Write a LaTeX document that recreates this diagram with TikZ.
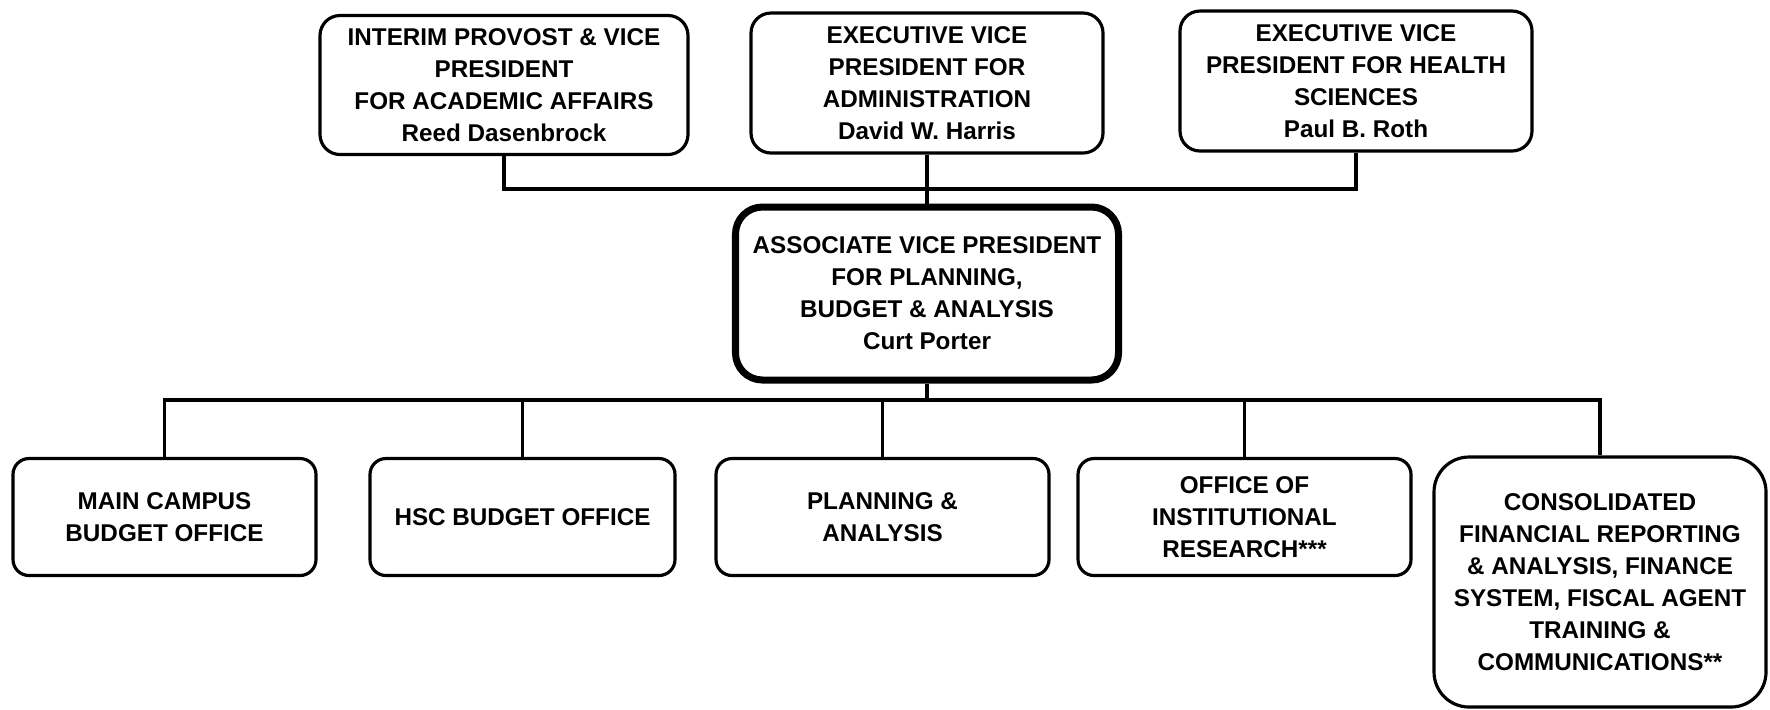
\documentclass[tikz,border=0pt]{standalone}
\usepackage{fontspec}
\setmainfont{Liberation Sans}
\usetikzlibrary{positioning}

\begin{document}
\begin{tikzpicture}[
    every node/.style={font=\fontsize{6.9}{9.1}\selectfont\bfseries, align=center},
    orgbox/.style={draw, line width=0.9pt, rounded corners=0.2cm, inner sep=2pt},
    headbox/.style={orgbox, line width=2pt, rounded corners=0.27cm},
    unitbox/.style={orgbox, rounded corners=0.16cm, minimum height=1.17cm},
    link/.style={line width=0.9pt}
  ]
  \useasboundingbox (0,0) rectangle (17.7,-7.09);

  % Top row
  \node[orgbox, minimum width=3.68cm, minimum height=1.39cm] (prov) at (5.04,-0.85)
    {INTERIM PROVOST \& VICE\\PRESIDENT\\FOR ACADEMIC AFFAIRS\\Reed Dasenbrock};
  \node[orgbox, minimum width=3.52cm, minimum height=1.40cm] (admin) at (9.27,-0.83)
    {EXECUTIVE VICE\\PRESIDENT FOR\\ADMINISTRATION\\David W. Harris};
  \node[orgbox, minimum width=3.52cm, minimum height=1.40cm] (hs) at (13.56,-0.81)
    {EXECUTIVE VICE\\PRESIDENT FOR HEALTH\\SCIENCES\\Paul B. Roth};

  % Head
  \node[headbox, minimum width=3.83cm, minimum height=1.73cm] (avp) at (9.27,-2.935)
    {ASSOCIATE VICE PRESIDENT\\FOR PLANNING,\\BUDGET \& ANALYSIS\\Curt Porter};

  % Units
  \foreach \name/\x/\w/\txt in {
    mcb/1.645/3.03/{MAIN CAMPUS\\BUDGET OFFICE},
    hsc/5.225/3.05/{HSC BUDGET OFFICE},
    pla/8.825/3.33/{PLANNING \&\\ANALYSIS},
    oir/12.445/3.33/{OFFICE OF\\INSTITUTIONAL\\RESEARCH***}%
  }{
    \node[unitbox, minimum width=\w cm] (\name) at (\x,-5.17) {\txt};
  }
  \node[orgbox, rounded corners=0.35cm, minimum width=3.32cm, minimum height=2.50cm] (cfr) at (16.0,-5.82)
    {CONSOLIDATED\\FINANCIAL REPORTING\\\& ANALYSIS, FINANCE\\SYSTEM, FISCAL AGENT\\TRAINING \&\\COMMUNICATIONS**};

  % Connectors
  \coordinate (topbus) at (0,-1.89);
  \coordinate (botbus) at (0,-4.0);
  \draw[link] (prov.south) -- (prov.south |- topbus) -| (hs.south);
  \draw[link] (admin.south) -- (avp.north);
  \draw[link] (avp.south) -- (avp.south |- botbus);
  \draw[link] (mcb.north) |- (cfr.north |- botbus) -- (cfr.north);
  \foreach \name in {hsc,pla,oir}{
    \draw[link] (\name.north) -- (\name.north |- botbus);
  }
\end{tikzpicture}
\end{document}
